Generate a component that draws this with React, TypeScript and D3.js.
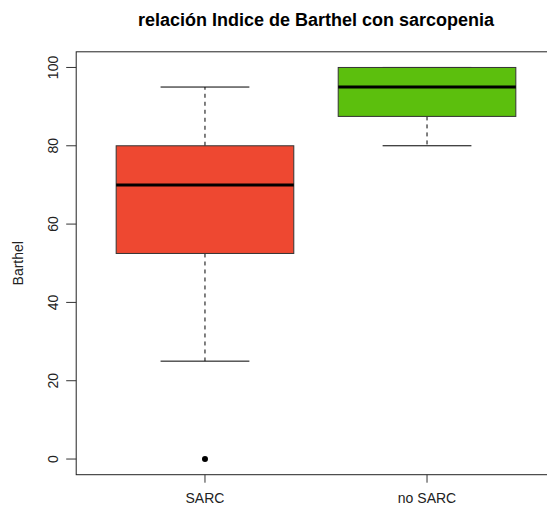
import React from "react";
import * as d3 from "d3";

// Barthel index by sarcopenia group: five-number summaries plus outliers
const groups = ["SARC", "no SARC"];
const lowerWhisker = [25, 80];
const q1 = [52.5, 87.5];
const median = [70, 95];
const q3 = [80, 100];
const upperWhisker = [95, 100];
const outliers: number[][] = [[0], []];
const fills = ["#EE4831", "#5CBF0D"];
const yTicks = [0, 20, 40, 60, 80, 100];

const W = 547;
const H = 507;

export default function App() {
  // R-style axis ranges: data range extended by 4% on each side
  const y = d3.scaleLinear().domain([-4, 104]).range([474.7, 51.8]);
  const x = d3.scaleLinear().domain([0.42, 2.58]).range([76.2, 555.8]);
  const boxHalf = (x(2) - x(1)) * 0.4;
  const capHalf = boxHalf * 0.5;
  const font = "'Liberation Sans', Arial, sans-serif";
  const [x0, x1] = x.range();
  const [yb, yt] = y.range();

  return (
    <svg width={W} height={H} style={{ position: "absolute", left: 0, top: 0, background: "#fff" }}>
      <text x={(x0 + x1) / 2} y={26} textAnchor="middle" fontFamily={font} fontWeight="bold" fontSize={18} fill="#000">
        relación Indice de Barthel con sarcopenia
      </text>

      {groups.map((g, i) => {
        const cx = x(i + 1);
        return (
          <g key={g}>
            {/* whiskers */}
            <line x1={cx} x2={cx} y1={y(q3[i])} y2={y(upperWhisker[i])} stroke="#000" strokeDasharray="4,4" />
            <line x1={cx} x2={cx} y1={y(q1[i])} y2={y(lowerWhisker[i])} stroke="#000" strokeDasharray="4,4" />
            <line x1={cx - capHalf} x2={cx + capHalf} y1={y(upperWhisker[i])} y2={y(upperWhisker[i])} stroke="#000" />
            <line x1={cx - capHalf} x2={cx + capHalf} y1={y(lowerWhisker[i])} y2={y(lowerWhisker[i])} stroke="#000" />
            {/* box */}
            <rect
              x={cx - boxHalf}
              width={boxHalf * 2}
              y={y(q3[i])}
              height={y(q1[i]) - y(q3[i])}
              fill={fills[i]}
              stroke="#333"
              strokeWidth={1}
            />
            <line x1={cx - boxHalf} x2={cx + boxHalf} y1={y(median[i])} y2={y(median[i])} stroke="#000" strokeWidth={3} />
            {outliers[i].map((v, k) => (
              <circle key={k} cx={cx} cy={y(v)} r={3} fill="#000" />
            ))}
          </g>
        );
      })}

      {/* plot frame */}
      <rect x={x0} y={yt} width={x1 - x0} height={yb - yt} fill="none" stroke="#222" strokeWidth={1} />

      {/* y axis */}
      {yTicks.map((t) => (
        <g key={t}>
          <line x1={x0 - 10} x2={x0} y1={y(t)} y2={y(t)} stroke="#333" />
          <text
            transform={`translate(${58},${y(t)}) rotate(-90)`}
            textAnchor="middle"
            fontFamily={font}
            fontSize={14}
            fill="#222"
          >
            {t}
          </text>
        </g>
      ))}
      <text transform={`translate(23,${(yt + yb) / 2}) rotate(-90)`} textAnchor="middle" fontFamily={font} fontSize={14} fill="#222">
        Barthel
      </text>

      {/* x axis */}
      {groups.map((g, i) => (
        <g key={g}>
          <line x1={x(i + 1)} x2={x(i + 1)} y1={yb} y2={yb + 8} stroke="#333" />
          <text x={x(i + 1)} y={503} textAnchor="middle" fontFamily={font} fontSize={14} fill="#222">
            {g}
          </text>
        </g>
      ))}
    </svg>
  );
}
